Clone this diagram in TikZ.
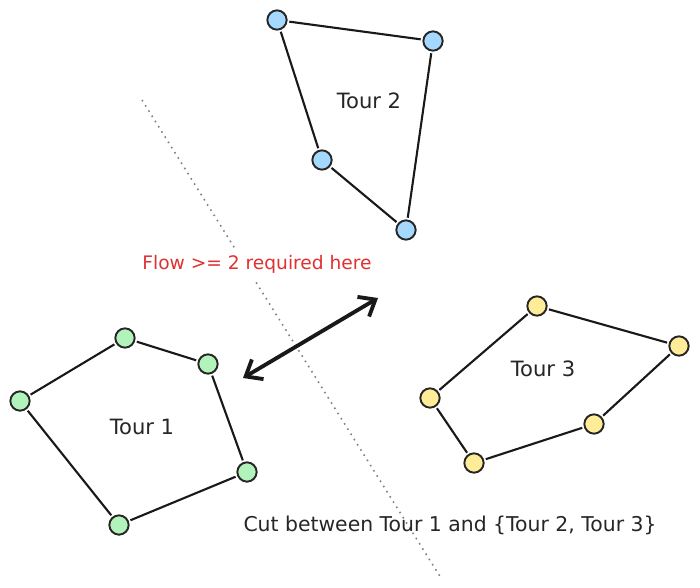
\documentclass[tikz,border=0pt]{standalone}
\usepackage{fontspec}
\setmainfont{DejaVu Sans}
\usetikzlibrary{arrows.meta}

\definecolor{tourgreen}{HTML}{B2F2BB}
\definecolor{tourblue}{HTML}{A5D8FF}
\definecolor{touryellow}{HTML}{FFEC99}
\definecolor{flowred}{HTML}{E03131}

\tikzset{
  city/.style={circle,draw=black!85,line width=1.1pt,minimum size=11pt,inner sep=0pt},
  edge/.style={black!90,line width=1.2pt,shorten <=1pt,shorten >=1pt},
  label/.style={font=\fontsize{12}{14}\selectfont,text=black!85}
}

\begin{document}
\begin{tikzpicture}[x=0.02cm,y=-0.02cm]
\useasboundingbox (0,0) rectangle (700,588);

% Cut line
\coordinate (cuttop) at (142,100);
\coordinate (cutbot) at (441,578);
\draw[gray,line width=0.9pt,dash pattern=on 0.9pt off 2.6pt] (cuttop) -- (cutbot);

% Tour 1
\node[city,fill=tourgreen] (g1) at (125,338) {};
\node[city,fill=tourgreen] (g2) at (208,364) {};
\node[city,fill=tourgreen] (g3) at (247,472) {};
\node[city,fill=tourgreen] (g4) at (119,525) {};
\node[city,fill=tourgreen] (g5) at (20,401) {};
\draw[edge] (g1) -- (g2);
\draw[edge] (g2) -- (g3);
\draw[edge] (g3) -- (g4);
\draw[edge] (g4) -- (g5);
\draw[edge] (g5) -- (g1);
\node[label] (t1) at (142,427) {Tour 1};

% Tour 2
\node[city,fill=tourblue] (b1) at (277,20) {};
\node[city,fill=tourblue] (b2) at (433,41) {};
\node[city,fill=tourblue] (b3) at (406,230) {};
\node[city,fill=tourblue] (b4) at (322,160) {};
\draw[edge] (b1) -- (b2);
\draw[edge] (b2) -- (b3);
\draw[edge] (b3) -- (b4);
\draw[edge] (b4) -- (b1);
\node[label] (t2) at (369,101) {Tour 2};

% Tour 3
\node[city,fill=touryellow] (y1) at (537,306) {};
\node[city,fill=touryellow] (y2) at (679,346) {};
\node[city,fill=touryellow] (y3) at (594,424) {};
\node[city,fill=touryellow] (y4) at (474,463) {};
\node[city,fill=touryellow] (y5) at (430,398) {};
\draw[edge] (y1) -- (y2);
\draw[edge] (y2) -- (y3);
\draw[edge] (y3) -- (y4);
\draw[edge] (y4) -- (y5);
\draw[edge] (y5) -- (y1);
\node[label] (t3) at (543,369) {Tour 3};

% Flow arrow
\coordinate (flowa) at (243,378);
\coordinate (flowb) at (378,298);
\draw[black!90,line width=2.2pt,{Straight Barb[length=8pt,width=13pt]}-{Straight Barb[length=8pt,width=13pt]}] (flowa) -- (flowb);
\node[label,text=flowred,fill=white,inner sep=4pt,font=\fontsize{10.6}{12}\selectfont] (flow) at (257,264) {Flow >= 2 required here};

% Caption
\node[label,font=\fontsize{11.6}{13}\selectfont] (cut) at (450,525) {Cut between Tour 1 and \{Tour 2, Tour 3\}};
\end{tikzpicture}
\end{document}
